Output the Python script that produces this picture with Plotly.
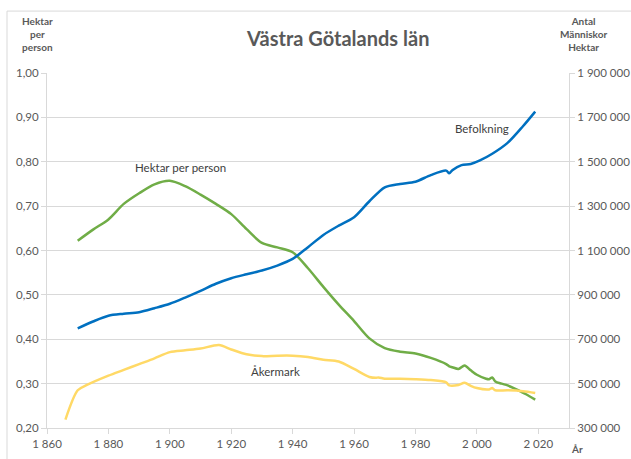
import plotly.graph_objects as go

# Befolkning (antal människor) - right axis
pop_years = [1870, 1875, 1880, 1885, 1890, 1895, 1900, 1905, 1910, 1915, 1920, 1925, 1930, 1935,
             1940, 1945, 1950, 1955, 1960, 1965, 1970, 1975, 1980, 1985, 1990, 1991, 1992, 1995,
             1998, 2001, 2005, 2010, 2015, 2019]
pop_values = [749000, 780000, 806000, 815000, 822000, 840000, 860000, 888000, 918000, 950000,
              975000, 993000, 1010000, 1032000, 1062000, 1115000, 1170000, 1212000, 1250000,
              1322000, 1385000, 1400000, 1410000, 1440000, 1460000, 1448000, 1462000, 1485000,
              1490000, 1506000, 1536000, 1585000, 1660000, 1726000]

# Hektar per person - left axis
hpp_years = [1870, 1875, 1880, 1885, 1890, 1895, 1900, 1905, 1910, 1915, 1920, 1925, 1930, 1935,
             1940, 1945, 1950, 1955, 1960, 1965, 1970, 1975, 1980, 1985, 1990, 1991, 1992, 1994,
             1996, 1998, 2000, 2003, 2004, 2005, 2006, 2008, 2010, 2012, 2014, 2016, 2019]
hpp_values = [0.622, 0.647, 0.670, 0.705, 0.729, 0.749, 0.757, 0.745, 0.726, 0.705, 0.682, 0.648,
              0.617, 0.607, 0.596, 0.560, 0.518, 0.478, 0.441, 0.402, 0.380, 0.372, 0.368, 0.358,
              0.344, 0.339, 0.337, 0.333, 0.341, 0.330, 0.320, 0.311, 0.310, 0.314, 0.305, 0.300,
              0.296, 0.290, 0.283, 0.276, 0.264]

# Åkermark (hektar) - right axis
ake_years = [1866, 1870, 1873, 1880, 1885, 1890, 1895, 1900, 1905, 1910, 1916, 1920, 1925, 1930,
             1935, 1940, 1945, 1950, 1955, 1960, 1965, 1967, 1968, 1970, 1975, 1980, 1985, 1990,
             1991, 1994, 1996, 1998, 2000, 2004, 2005, 2006, 2010, 2015, 2019]
ake_values = [338000, 470000, 494000, 536000, 562000, 588000, 614000, 642000, 650000, 658000,
              674000, 654000, 632000, 624000, 626000, 626000, 620000, 608000, 600000, 566000,
              530000, 526000, 528000, 522000, 522000, 520000, 516000, 506000, 492000, 494000,
              504000, 490000, 480000, 474000, 480000, 470000, 470000, 466000, 458000]

x_ticks = [1860, 1880, 1900, 1920, 1940, 1960, 1980, 2000, 2020]
x_ticktext = ["1 860", "1 880", "1 900", "1 920", "1 940", "1 960", "1 980", "2 000", "2 020"]
y_ticks = [0.2, 0.3, 0.4, 0.5, 0.6, 0.7, 0.8, 0.9, 1.0]
y_ticktext = ["0,20", "0,30", "0,40", "0,50", "0,60", "0,70", "0,80", "0,90", "1,00"]
y2_ticks = [300000, 500000, 700000, 900000, 1100000, 1300000, 1500000, 1700000, 1900000]
y2_ticktext = ["300 000", "500 000", "700 000", "900 000", "1 100 000", "1 300 000",
               "1 500 000", "1 700 000", "1 900 000"]

FONT = "Lato, 'Open Sans', sans-serif"
GRAY = "#595959"
GRID = "#d9d9d9"

fig = go.Figure()
fig.add_trace(go.Scatter(x=ake_years, y=ake_values, yaxis="y2", mode="lines", name="Åkermark",
                         line=dict(color="#FFD966", width=2.5, shape="spline", smoothing=0.8)))
fig.add_trace(go.Scatter(x=pop_years, y=pop_values, yaxis="y2", mode="lines", name="Befolkning",
                         line=dict(color="#0070C0", width=2.5, shape="spline", smoothing=0.8)))
fig.add_trace(go.Scatter(x=hpp_years, y=hpp_values, mode="lines", name="Hektar per person",
                         line=dict(color="#70AD47", width=2.5, shape="spline", smoothing=0.8)))

fig.update_layout(
    width=631, height=459,
    margin=dict(l=47, r=62, t=73, b=31, autoexpand=False),
    paper_bgcolor="white", plot_bgcolor="white",
    showlegend=False,
    font=dict(family=FONT, size=11, color=GRAY),
    xaxis=dict(range=[1860, 2030], tickvals=x_ticks, ticktext=x_ticktext, automargin=False,
               showgrid=False, showline=True, linecolor=GRID, linewidth=1,
               ticks="outside", ticklen=5, tickcolor=GRID, zeroline=False,
               tickfont=dict(size=11.5, color=GRAY)),
    yaxis=dict(range=[0.2, 1.0], tickvals=y_ticks, ticktext=y_ticktext, automargin=False,
               showgrid=True, gridcolor=GRID, gridwidth=1,
               showline=True, linecolor=GRID, ticks="outside", ticklen=5, tickcolor=GRID,
               zeroline=False, tickfont=dict(size=11.5, color=GRAY)),
    yaxis2=dict(range=[300000, 1900000], tickvals=y2_ticks, ticktext=y2_ticktext, automargin=False,
                overlaying="y", side="right", showgrid=False,
                showline=True, linecolor=GRID, ticks="outside", ticklen=5, tickcolor=GRID,
                zeroline=False, tickfont=dict(size=11.5, color=GRAY)),
)

annotations = [
    dict(text="<b>Västra Götalands län</b>", xref="paper", yref="paper", x=0.557, y=1.098,
         showarrow=False, font=dict(size=20, color=GRAY, family=FONT), xanchor="center", yanchor="middle"),
    dict(text="<b>Hektar<br>per<br>person</b>", xref="paper", yref="paper", x=-0.019, y=1.11,
         showarrow=False, font=dict(size=10, color=GRAY, family=FONT), xanchor="center", yanchor="middle"),
    dict(text="<b>Antal<br>Människor<br>Hektar</b>", xref="paper", yref="paper", x=1.027, y=1.11,
         showarrow=False, font=dict(size=10, color=GRAY, family=FONT), xanchor="center", yanchor="middle"),
    dict(text="<b>År</b>", xref="paper", yref="paper", x=1.015, y=-0.058,
         showarrow=False, font=dict(size=10, color=GRAY, family=FONT), xanchor="center", yanchor="middle"),
    dict(text="Hektar per person", x=1903.4, y=0.788, xref="x", yref="y", showarrow=False,
         font=dict(size=11.5, color="#404040", family=FONT)),
    dict(text="Befolkning", x=2001.8, y=0.874, xref="x", yref="y", showarrow=False,
         font=dict(size=11.5, color="#404040", family=FONT)),
    dict(text="Åkermark", x=1934.4, y=0.327, xref="x", yref="y", showarrow=False,
         font=dict(size=11.5, color="#404040", family=FONT)),
]
fig.update_layout(annotations=annotations)

fig.add_shape(type="rect", xref="paper", yref="paper",
              x0=(7 - 47) / 522, x1=(640 - 47) / 522,
              y0=(428.5 - 470) / 355.5, y1=(428.5 - 11) / 355.5,
              line=dict(color="#d9d9d9", width=1), fillcolor="rgba(0,0,0,0)", layer="below")

fig.write_html("out.html", config={"displayModeBar": False},
               post_script="document.body.style.margin='0';document.body.style.overflow='hidden';")
